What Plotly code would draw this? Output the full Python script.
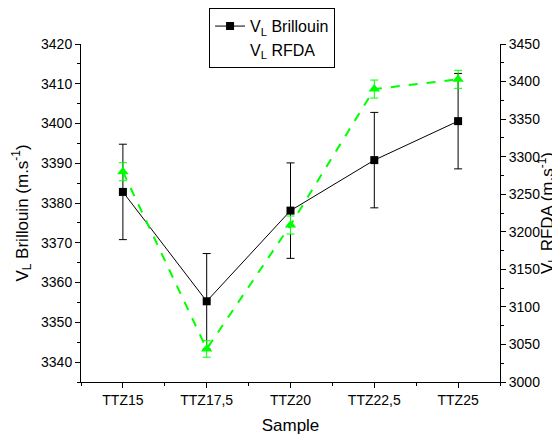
import plotly.graph_objects as go

samples = ["TTZ15", "TTZ17,5", "TTZ20", "TTZ22,5", "TTZ25"]
brillouin = [3382.8, 3355.3, 3378.1, 3390.8, 3400.6]
brillouin_err = [12, 12, 12, 12, 12]
rfda = [3280, 3044, 3209, 3390, 3403]
rfda_err = [12, 11, 12, 12, 12]

x = list(range(len(samples)))
FONT = "Liberation Sans, Arial, sans-serif"
GREEN = "#00ff00"

fig = go.Figure()
fig.add_trace(go.Scatter(
    x=x, y=brillouin, name="V<sub>L</sub> Brillouin", mode="lines+markers",
    line=dict(color="black", width=1),
    marker=dict(symbol="square", size=8, color="black"),
    error_y=dict(type="data", array=brillouin_err, color="black", thickness=1, width=4),
    yaxis="y",
))
fig.add_trace(go.Scatter(
    x=x, y=rfda, name="V<sub>L</sub> RFDA", mode="lines+markers",
    line=dict(color=GREEN, width=2, dash="dash"),
    marker=dict(symbol="triangle-up", size=10, color=GREEN),
    error_y=dict(type="data", array=rfda_err, color=GREEN, thickness=1, width=4),
    yaxis="y2", showlegend=False,
))
# legend entry without symbol, as in the reference
fig.add_trace(go.Scatter(
    x=[None], y=[None], name="V<sub>L</sub> RFDA", mode="lines",
    line=dict(color="rgba(0,0,0,0)", width=1), yaxis="y2",
))

# page is offset by the 8px body margin; figure is sized to fit the window
fig.update_layout(
    width=552, height=429,
    margin=dict(l=73, r=60, t=36, b=55, autoexpand=False),
    paper_bgcolor="white", plot_bgcolor="white",
    font=dict(family=FONT, size=14, color="black"),
    showlegend=True,
    legend=dict(
        x=0.456, y=1.106, xref="paper", yref="paper", xanchor="center", yanchor="top",
        bordercolor="black", borderwidth=1, bgcolor="white",
        font=dict(family=FONT, size=16, color="black"),
        itemwidth=30, tracegroupgap=0,
    ),
    xaxis=dict(
        range=[-0.5, 4.5], tickvals=x, ticktext=samples, tickangle=0,
        showline=True, linecolor="black", linewidth=1, mirror=False,
        ticks="outside", ticklen=5, tickcolor="black",
        minor=dict(tickvals=[v + 0.5 for v in [-1] + x], ticks="outside", ticklen=3, tickcolor="black"),
        showgrid=False, zeroline=False,
        title=dict(text="Sample", font=dict(family=FONT, size=17), standoff=12),
        tickfont=dict(size=14),
    ),
    yaxis=dict(
        range=[3335, 3420], tick0=3340, dtick=10,
        showline=True, linecolor="black", linewidth=1,
        ticks="outside", ticklen=5, tickcolor="black",
        minor=dict(dtick=5, ticks="outside", ticklen=3, tickcolor="black"),
        showgrid=False, zeroline=False,
        title=dict(text="V<sub>L</sub> Brillouin (m.s<sup>-1</sup>)", font=dict(family=FONT, size=17), standoff=8),
        tickfont=dict(size=14),
    ),
    yaxis2=dict(
        range=[3000, 3450], tick0=3000, dtick=50, overlaying="y", side="right",
        showline=True, linecolor="black", linewidth=1,
        ticks="outside", ticklen=5, tickcolor="black",
        minor=dict(dtick=25, ticks="outside", ticklen=3, tickcolor="black"),
        showgrid=False, zeroline=False,
        title=dict(text="V<sub>L</sub> RFDA (m.s<sup>-1</sup>)", font=dict(family=FONT, size=17), standoff=8),
        tickfont=dict(size=14),
    ),
)

fig.write_html("out.html")
